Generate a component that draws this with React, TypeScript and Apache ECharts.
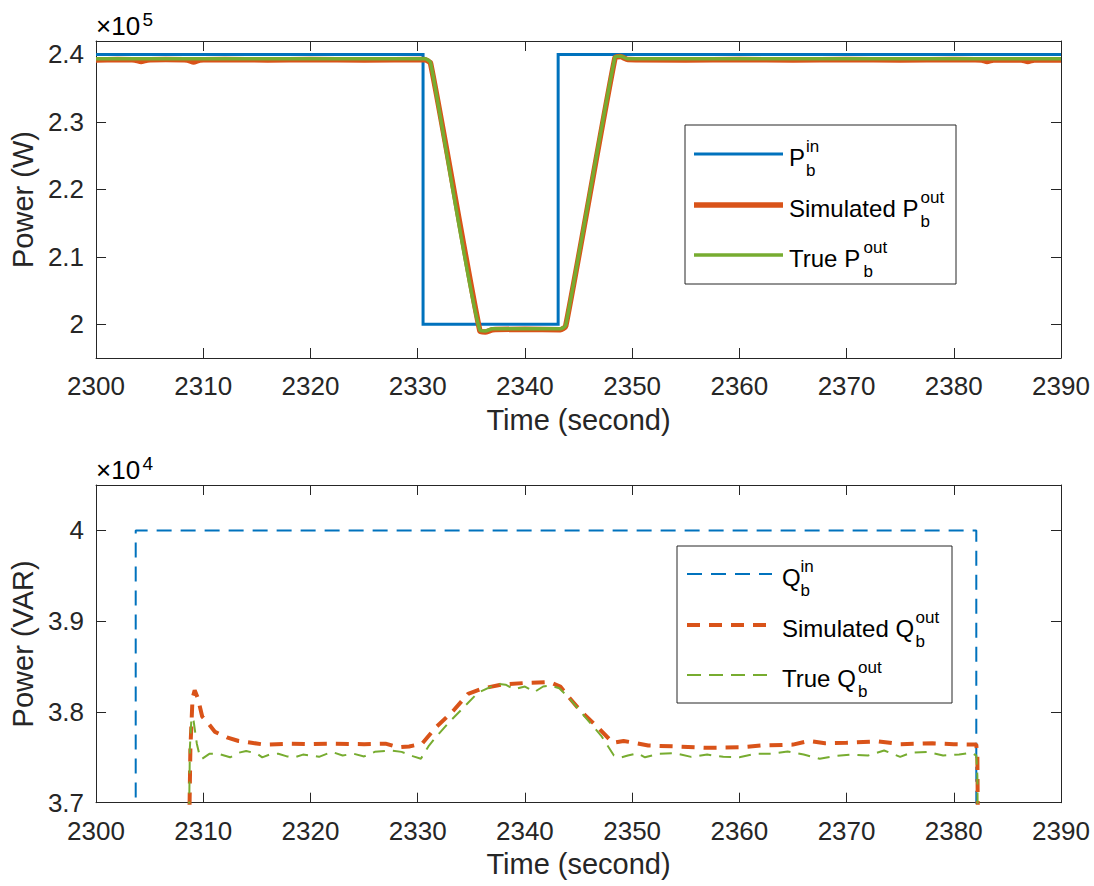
import React, { useEffect, useRef } from "react";
import * as echarts from "echarts";

// ---------- data ----------
const timeTicks = [2300, 2310, 2320, 2330, 2340, 2350, 2360, 2370, 2380, 2390];
const pTickValues = [200000, 210000, 220000, 230000, 240000];
const qTickValues = [37000, 38000, 39000, 40000];

const pInTime = [2300, 2330.5, 2330.5, 2343.1, 2343.1, 2390];
const pInValue = [240000, 240000, 200000, 200000, 240000, 240000];

const pSimTime = [2300, 2302, 2303.6, 2304.2, 2304.8, 2306.5, 2308.5, 2309.1, 2309.7, 2312, 2316, 2320, 2325, 2330.6, 2331.2, 2335.8, 2336.3, 2337, 2340, 2343.3, 2343.8, 2348.4, 2348.9, 2349.6, 2355, 2360, 2365, 2370, 2375, 2380, 2382.6, 2383.1, 2383.7, 2386.3, 2386.9, 2387.5, 2390];
const pSimValue = [239200, 239250, 239200, 238950, 239200, 239250, 239200, 238900, 239200, 239250, 239200, 239250, 239200, 239250, 238700, 199000, 198850, 199200, 199250, 199200, 199700, 239500, 239700, 239250, 239200, 239250, 239200, 239250, 239200, 239250, 239200, 238950, 239200, 239200, 238950, 239200, 239200];

const pTrueTime = [2300, 2330.7, 2331.2, 2335.8, 2336.3, 2337, 2343.3, 2343.8, 2348.4, 2348.9, 2349.6, 2390];
const pTrueValue = [239350, 239350, 238800, 199100, 199000, 199350, 199350, 199800, 239600, 239750, 239350, 239350];

const qInTime = [2303.7, 2303.7, 2382.1, 2382.1];
const qInValue = [36000, 40000, 40000, 36000];

const qSimTime = [2308.6, 2308.8, 2309.0, 2309.2, 2309.5, 2309.9, 2310.5, 2311.1, 2312.2, 2313.3, 2314.5, 2315.7, 2318, 2320, 2322, 2325, 2327, 2328.2, 2329.2, 2330.4, 2331.7, 2333.3, 2334.7, 2336.1, 2337.8, 2340.1, 2342.3, 2343.3, 2343.9, 2345.2, 2346.8, 2348.2, 2349.2, 2350.2, 2351.5, 2354, 2357, 2360, 2362, 2365, 2366.5, 2368, 2370, 2373, 2375, 2378, 2380, 2382.1, 2382.2, 2382.3];
const qSimValue = [36000, 37600, 38150, 38240, 38150, 37950, 37870, 37780, 37720, 37680, 37660, 37640, 37650, 37645, 37650, 37645, 37650, 37610, 37620, 37650, 37830, 38010, 38200, 38260, 38300, 38320, 38330, 38280, 38190, 38010, 37830, 37660, 37680, 37660, 37630, 37620, 37605, 37610, 37630, 37640, 37680, 37655, 37660, 37675, 37645, 37655, 37645, 37640, 37500, 36000];

const qTrueTime = [2308.6, 2308.75, 2308.9, 2309.1, 2309.4, 2309.7, 2309.9, 2310.6, 2311.4, 2312.5, 2313.3, 2314, 2315, 2315.5, 2316.3, 2317, 2317.8, 2318.5, 2319.3, 2320, 2320.8, 2322, 2323, 2324, 2325, 2326, 2327.5, 2328.5, 2329.6, 2330.3, 2331, 2331.6, 2332.8, 2334.2, 2335.6, 2336.5, 2337.5, 2338.2, 2339, 2340, 2340.9, 2341.7, 2342.4, 2343.2, 2344, 2345.5, 2347.1, 2348.3, 2349, 2349.6, 2350.5, 2351.2, 2352.5, 2354, 2355.5, 2357, 2358.5, 2360, 2361.5, 2363, 2364.5, 2366, 2367.5, 2369, 2370.5, 2372, 2373.5, 2375, 2376, 2377.5, 2379, 2380.5, 2381.6, 2382.1, 2382.2, 2382.3];
const qTrueValue = [36000, 37600, 37940, 37900, 37650, 37500, 37485, 37540, 37540, 37500, 37550, 37570, 37540, 37500, 37535, 37540, 37510, 37500, 37530, 37520, 37505, 37560, 37520, 37540, 37510, 37560, 37575, 37560, 37510, 37485, 37620, 37710, 37870, 38040, 38210, 38260, 38310, 38300, 38250, 38280, 38220, 38280, 38290, 38260, 38170, 37960, 37740, 37520, 37500, 37520, 37545, 37500, 37540, 37545, 37505, 37530, 37505, 37500, 37540, 37540, 37565, 37530, 37485, 37515, 37530, 37520, 37575, 37505, 37550, 37560, 37520, 37530, 37550, 37520, 37300, 36000];

// ---------- styling ----------
const FONT = "'Liberation Sans', Arial, Helvetica, sans-serif";
const AX = "#262626";
const BLUE = "#0072BD";
const ORANGE = "#D95319";
const GREEN = "#77AC30";

const zip = (xs: number[], ys: number[]) => xs.map((x, i) => [x, ys[i]]);

function xAxisDef(gridIndex: number, top: boolean) {
  return {
    type: "value",
    gridIndex,
    position: top ? "top" : "bottom",
    min: timeTicks[0],
    max: timeTicks[timeTicks.length - 1],
    interval: 10,
    name: top ? "" : "Time (second)",
    nameLocation: "middle",
    nameGap: 47,
    nameTextStyle: { fontSize: 29, color: AX, fontFamily: FONT },
    axisLine: { show: true, onZero: false, lineStyle: { color: AX, width: 1 } },
    axisTick: { show: true, inside: true, length: 10, lineStyle: { color: AX, width: 1 } },
    axisLabel: {
      show: !top,
      margin: 15,
      fontSize: 26,
      color: AX,
      fontFamily: FONT,
      formatter: (v: number) => String(v),
    },
    splitLine: { show: false },
  };
}

function yAxisDef(gridIndex: number, right: boolean, min: number, max: number, ticks: number[], div: number, name: string) {
  return {
    type: "value",
    gridIndex,
    position: right ? "right" : "left",
    min,
    max,
    name: right ? "" : name,
    nameLocation: "middle",
    nameGap: 53,
    nameTextStyle: { fontSize: 29, color: AX, fontFamily: FONT },
    axisLine: { show: true, onZero: false, lineStyle: { color: AX, width: 1 } },
    axisTick: { show: true, inside: true, length: 10, customValues: ticks, lineStyle: { color: AX, width: 1 } },
    axisLabel: {
      show: !right,
      customValues: ticks,
      margin: 12,
      fontSize: 26,
      color: AX,
      fontFamily: FONT,
      formatter: (v: number) => String(Math.round((v / div) * 100) / 100),
    },
    splitLine: { show: false },
  };
}

function txt(text: string, x: number, y: number, size: number) {
  return {
    type: "text",
    x,
    y,
    z: 101,
    style: {
      text,
      x: 0,
      y: 0,
      font: `${size}px ${FONT}`,
      fill: "#000",
      textAlign: "left",
      textVerticalAlign: "middle",
    },
  };
}

function legendRow(lineX1: number, lineX2: number, y: number, color: string, width: number, dash: number[] | null, textX: number, main: string, supX: number, sup: string) {
  return [
    {
      type: "line",
      z: 101,
      shape: { x1: lineX1, y1: y, x2: lineX2, y2: y },
      style: { stroke: color, lineWidth: width, lineDash: dash || undefined },
    },
    txt(main, textX, y + 3.2, 24),
    txt(sup, supX, y - 7.4, 17),
    txt("b", supX, y + 16.1, 17),
  ];
}

function buildGraphic() {
  const els: any[] = [];
  // exponents
  els.push(txt("\u00d710", 96, 26.3, 26));
  els.push(txt("5", 142.5, 19.5, 19));
  els.push(txt("\u00d710", 96, 469.6, 26));
  els.push(txt("4", 142.5, 463, 19));
  // top legend
  els.push({
    type: "rect",
    z: 100,
    shape: { x: 685, y: 125, width: 271, height: 159 },
    style: { fill: "#fff", stroke: AX, lineWidth: 1 },
  });
  els.push(...legendRow(694, 783, 154, BLUE, 3, null, 789, "P", 806, "in"));
  els.push(...legendRow(694, 783, 205, ORANGE, 5.5, null, 789, "Simulated P", 920.5, "out"));
  els.push(...legendRow(694, 783, 255, GREEN, 3.5, null, 789, "True P", 863.5, "out"));
  // bottom legend
  els.push({
    type: "rect",
    z: 100,
    shape: { x: 677, y: 546, width: 275, height: 157 },
    style: { fill: "#fff", stroke: AX, lineWidth: 1 },
  });
  els.push(...legendRow(687, 772, 574, BLUE, 2, [15, 9], 782, "Q", 800.5, "in"));
  els.push(...legendRow(687, 772, 625, ORANGE, 4, [13, 9], 782, "Simulated Q", 915.5, "out"));
  els.push(...legendRow(687, 772, 675, GREEN, 2, [14, 8], 782, "True Q", 858, "out"));
  return els;
}

const option: any = {
  animation: false,
  backgroundColor: "#ffffff",
  grid: [
    { left: 94, top: 41, width: 967, height: 317, containLabel: false },
    { left: 94, top: 485, width: 967, height: 317.7, containLabel: false },
  ],
  xAxis: [xAxisDef(0, false), xAxisDef(0, true), xAxisDef(1, false), xAxisDef(1, true)],
  yAxis: [
    yAxisDef(0, false, 195000, 242000, pTickValues, 1e5, "Power (W)"),
    yAxisDef(0, true, 195000, 242000, pTickValues, 1e5, ""),
    yAxisDef(1, false, 37000, 40500, qTickValues, 1e4, "Power (VAR)"),
    yAxisDef(1, true, 37000, 40500, qTickValues, 1e4, ""),
  ],
  series: [
    {
      name: "P_in",
      type: "line",
      xAxisIndex: 0,
      yAxisIndex: 0,
      data: zip(pInTime, pInValue),
      showSymbol: false,
      symbol: "none",
      lineStyle: { color: BLUE, width: 3, join: "miter" },
    },
    {
      name: "Simulated P_out",
      type: "line",
      xAxisIndex: 0,
      yAxisIndex: 0,
      data: zip(pSimTime, pSimValue),
      showSymbol: false,
      symbol: "none",
      smooth: 0.2,
      lineStyle: { color: ORANGE, width: 5.5 },
    },
    {
      name: "True P_out",
      type: "line",
      xAxisIndex: 0,
      yAxisIndex: 0,
      data: zip(pTrueTime, pTrueValue),
      showSymbol: false,
      symbol: "none",
      smooth: 0.2,
      lineStyle: { color: GREEN, width: 3.5 },
    },
    {
      name: "Q_in",
      type: "line",
      xAxisIndex: 2,
      yAxisIndex: 2,
      data: zip(qInTime, qInValue),
      showSymbol: false,
      symbol: "none",
      lineStyle: { color: BLUE, width: 2, type: [15, 9] },
    },
    {
      name: "Simulated Q_out",
      type: "line",
      xAxisIndex: 2,
      yAxisIndex: 2,
      data: zip(qSimTime, qSimValue),
      showSymbol: false,
      symbol: "none",
      lineStyle: { color: ORANGE, width: 4, type: [13, 9] },
    },
    {
      name: "True Q_out",
      type: "line",
      xAxisIndex: 2,
      yAxisIndex: 2,
      data: zip(qTrueTime, qTrueValue),
      showSymbol: false,
      symbol: "none",
      lineStyle: { color: GREEN, width: 2, type: [12, 8] },
    },
  ],
  graphic: buildGraphic(),
};

export default function App() {
  const ref = useRef<HTMLDivElement>(null);
  useEffect(() => {
    if (!ref.current) return;
    const chart = echarts.init(ref.current, null, { renderer: "svg" });
    chart.setOption(option);
    return () => chart.dispose();
  }, []);
  return (
    <div
      ref={ref}
      style={{ position: "absolute", left: 0, top: 0, width: 1094, height: 886, background: "#fff" }}
    />
  );
}
